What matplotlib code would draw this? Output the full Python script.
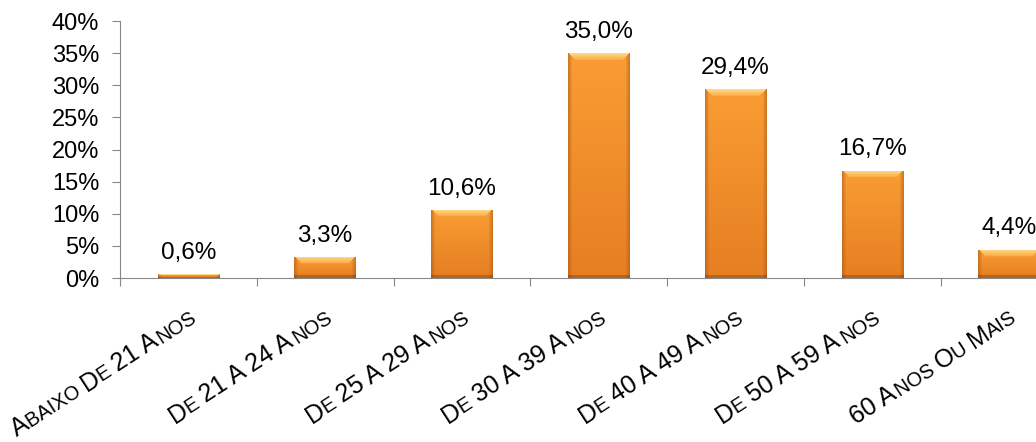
import matplotlib.pyplot as plt
import numpy as np
from matplotlib.colors import to_rgb
from matplotlib.font_manager import findfont, FontProperties
from matplotlib.ft2font import FT2Font

# labels are shown in small caps: capitals big, lower case as small capitals
categories = ["Abaixo De 21 Anos", "De 21 A 24 Anos", "De 25 A 29 Anos", "De 30 A 39 Anos",
              "De 40 A 49 Anos", "De 50 A 59 Anos", "60 Anos Ou Mais"]
values = [0.6, 3.3, 10.6, 35.0, 29.4, 16.7, 4.4]
yticks = [0, 5, 10, 15, 20, 25, 30, 35, 40]

plt.rcParams['font.family'] = ['Liberation Sans', 'DejaVu Sans']

DPI = 100
fig = plt.figure(figsize=(10.36, 4.42), dpi=DPI)
# axes runs past the right edge, like the cropped original
ax = fig.add_axes([0.1158, 0.371, 0.9243, 0.5814])

x = np.arange(len(categories))
bw = 0.45
bars = ax.bar(x, values, width=bw, color='#F08A24', edgecolor='none', zorder=2)

ax.set_xlim(-0.5, len(categories) - 0.5)
ax.set_ylim(0, 40)


def bar_image(h_px, w_px):
    H = max(int(round(h_px)), 2)
    W = max(int(round(w_px)), 2)
    top = np.array(to_rgb('#F99D33'))
    bot = np.array(to_rgb('#E67E22'))
    t = np.linspace(0, 1, H)[:, None, None]
    img = np.repeat(top * (1 - t) + bot * t, W, axis=1)
    cols = np.arange(W)
    edge = np.minimum(cols, W - 1 - cols)
    # dark sides
    s = np.clip(0.45 + 0.55 * edge / 4, 0, 1)[None, :, None]
    dark = np.array(to_rgb('#A85A18'))
    img = dark * (1 - s) + img * s
    # light bevel on top
    bev = min(7, H // 3)
    light_a = np.array(to_rgb('#FFD98A'))
    light_b = np.array(to_rgb('#FBA83E'))
    for r in range(bev):
        f = r / max(bev, 1)
        c = light_a * (1 - f) + light_b * f
        m = edge >= r + 1
        img[r, m] = c
    # darker bottom edge
    nb = min(3, H // 4)
    for r in range(nb):
        img[H - 1 - r] = img[H - 1 - r] * 0.8
    return img


bbox = ax.get_window_extent()
px_per_x = bbox.width / len(categories)
px_per_y = bbox.height / 40
for b, v in zip(bars, values):
    img = bar_image(v * px_per_y, bw * px_per_x)
    x0 = b.get_x()
    im = ax.imshow(img, extent=(x0, x0 + b.get_width(), 0, v), aspect='auto',
                   origin='upper', interpolation='bilinear', zorder=3)
    im.set_clip_path(b)

for xi, v in zip(x, values):
    ax.annotate(f"{v:.1f}%".replace('.', ','), (xi, v), xytext=(0, 11),
                textcoords='offset points', ha='center', va='baseline', fontsize=17.5)

ax.set_yticks(yticks)
ax.set_yticklabels([f"{t}%" for t in yticks], fontsize=17)
ax.tick_params(axis='y', length=6, color='#888888', pad=9)

ax.set_xticks(np.arange(-0.5, len(categories), 1))
ax.set_xticklabels([])
ax.tick_params(axis='x', which='major', length=6, color='#888888')

for side in ['top', 'right']:
    ax.spines[side].set_visible(False)
for side in ['left', 'bottom']:
    ax.spines[side].set_color('#888888')

# small-caps category labels, rotated
big, small = 18, 14.4
angle = 33
ft = FT2Font(findfont(FontProperties(family='Liberation Sans')))


def advance(txt, size):
    ft.set_size(size, DPI)
    return sum(ft.load_char(ord(c)).linearHoriAdvance / 65536 for c in txt)


def runs(label):
    out = []
    for c in label:
        size = small if c.islower() else big
        if c == ' ' and out:
            size = out[-1][1]
        if out and out[-1][1] == size:
            out[-1][0] += c.upper()
        else:
            out.append([c.upper(), size])
    return out


fw, fh = fig.get_size_inches() * DPI
ca, sa = np.cos(np.radians(angle)), np.sin(np.radians(angle))
for xi, lab in zip(x, categories):
    parts = runs(lab)
    total = sum(advance(p, s) for p, s in parts)
    ex, ey = ax.transData.transform((xi, 0))
    ex, ey = ex + 9, ey - 42  # end of baseline, below the axis
    px, py = ex - total * ca, ey - total * sa
    for p, s in parts:
        fig.text(px / fw, py / fh, p, fontsize=s, rotation=angle,
                 rotation_mode='anchor', ha='left', va='baseline')
        w = advance(p, s)
        px += w * ca
        py += w * sa

fig.savefig('out.png', dpi=DPI)
